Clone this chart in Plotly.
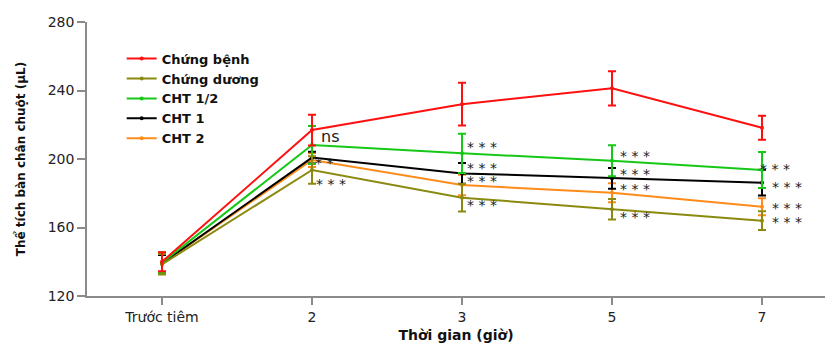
import plotly.graph_objects as go

categories = ["Trước tiêm", "2", "3", "5", "7"]

series_names = ["Chứng bệnh", "Chứng dương", "CHT 1/2", "CHT 1", "CHT 2"]
series_colors = ["#FF1010", "#8A8A10", "#16C816", "#000000", "#FF8C1A"]

benh_mean = [140.0, 216.9, 232.0, 241.3, 218.3]
benh_err = [5.5, 9.0, 12.5, 10.0, 7.0]
duong_mean = [138.5, 193.6, 177.4, 170.6, 164.0]
duong_err = [6.0, 8.0, 8.0, 6.0, 5.5]
cht12_mean = [139.5, 208.2, 203.3, 199.0, 193.6]
cht12_err = [6.0, 11.0, 11.5, 9.0, 10.5]
cht1_mean = [139.0, 200.8, 191.6, 188.7, 186.2]
cht1_err = [5.0, 3.5, 6.0, 6.0, 7.5]
cht2_mean = [139.0, 199.4, 184.8, 180.3, 172.1]
cht2_err = [5.0, 4.0, 6.0, 5.5, 5.0]

means = [benh_mean, duong_mean, cht12_mean, cht1_mean, cht2_mean]
errs = [benh_err, duong_err, cht12_err, cht1_err, cht2_err]

# significance labels: (category, y value, text, x-shift px)
sig_cats = ["2", "2", "2", "3", "3", "3", "3", "5", "5", "5", "5", "7", "7", "7", "7"]
sig_vals = [213.0, 197.7, 185.4, 207.2, 194.6, 187.3, 173.1, 201.9, 191.2, 182.3, 166.3, 194.0, 183.8, 171.6, 163.0]
sig_text = ["ns", "* *", "* * *", "* * *", "* * *", "* * *", "* * *", "* * *", "* * *", "* * *", "* * *",
            "* * *", "* * *", "* * *", "* * *"]
sig_shift = [7, 1, 2, 3, 3, 3, 3, 6, 6, 6, 6, -4, 8, 8, 8]

font_family = "DejaVu Sans"

fig = go.Figure()
order = [4, 3, 2, 1, 0]
for i in order:
    fig.add_trace(go.Scatter(
        x=categories, y=means[i], name=series_names[i], mode="lines+markers",
        line=dict(color=series_colors[i], width=2),
        marker=dict(color=series_colors[i], size=4),
        error_y=dict(type="data", array=errs[i], visible=True, color=series_colors[i],
                     thickness=2, width=4),
    ))

for c, v, t, s in zip(sig_cats, sig_vals, sig_text, sig_shift):
    fig.add_annotation(x=categories.index(c), y=v, text=t, showarrow=False, xanchor="left", yanchor="middle",
                       xshift=s, font=dict(family=font_family, size=16 if t == "ns" else 14, color="#222"))

fig.update_layout(
    width=825, height=343,
    margin=dict(l=87, r=0, t=22, b=47),
    paper_bgcolor="white", plot_bgcolor="white",
    font=dict(family=font_family, color="#222"),
    showlegend=True,
    legend=dict(x=0.047, y=0.921, xanchor="left", yanchor="top", traceorder="reversed",
                font=dict(family=font_family, size=13, color="#111", weight="bold"),
                bgcolor="rgba(0,0,0,0)", itemwidth=30),
    xaxis=dict(type="category", range=[-0.5, 4.42], showline=True, linecolor="#8a8a8a", linewidth=1.5,
               ticks="outside", ticklen=7, tickcolor="#8a8a8a", tickwidth=1.5, automargin=False,
               tickfont=dict(size=14, color="#222"), showgrid=False, zeroline=False,
               title=dict(text="Thời gian (giờ)", font=dict(size=14, weight="bold", color="#111"), standoff=9)),
    yaxis=dict(range=[120, 280], tickvals=[120, 160, 200, 240, 280], showline=True, automargin=False,
               linecolor="#8a8a8a", linewidth=1.5, ticks="outside", ticklen=8, tickcolor="#8a8a8a",
               tickwidth=1.5, tickfont=dict(size=14, color="#222"), showgrid=False, zeroline=False,
               title=dict(text="Thể tích bàn chân chuột (μL)", font=dict(size=12, weight="bold", color="#111"), standoff=20)),
)

fig.write_html("out.html", config={"displayModeBar": False},
               post_script="document.body.style.margin='0';document.body.style.overflow='hidden';")
